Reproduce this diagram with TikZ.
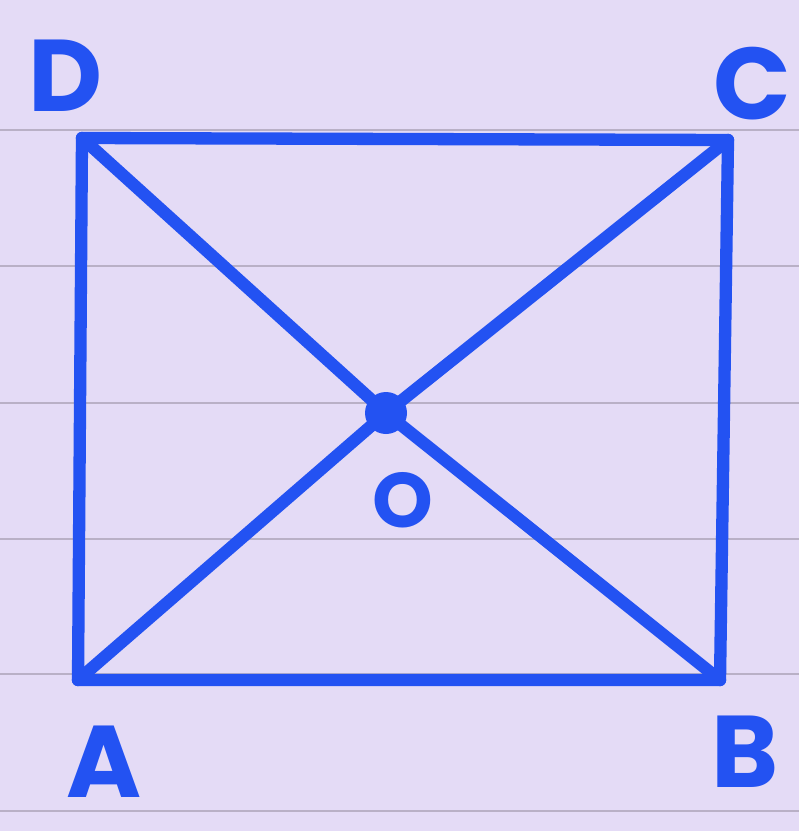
\documentclass[tikz,border=0pt]{standalone}
\usepackage{fontspec}
\setmainfont{Poppins}
\usepackage{xcolor}
\usetikzlibrary{positioning}
\definecolor{paper}{HTML}{E4DBF6}
\definecolor{rule}{HTML}{B9B0C6}
\definecolor{penblue}{HTML}{2352F2}
\tikzset{
  edge/.style={draw=penblue, line width=7pt, line cap=round, line join=round},
  ruleline/.style={draw=rule, line width=1.2pt},
  vlabel/.style={text=penblue, font=\fontsize{58}{60}\selectfont\bfseries, inner sep=0pt},
  olabel/.style={text=penblue, font=\fontsize{44}{46}\selectfont\bfseries, inner sep=0pt},
  pt/.style={circle, fill=penblue, inner sep=0pt, minimum size=42\pxu},
}
\newlength{\pxu}
\setlength{\pxu}{0.02cm}
\begin{document}
\begin{tikzpicture}[x=0.02cm, y=-0.02cm]
  % paper and ruling
  \fill[paper] (0,0) rectangle (799,831);
  \useasboundingbox (0,0) rectangle (799,831);
  \foreach \yy in {130,266,403,539,674,811}
    \draw[ruleline] (0,\yy) -- (799,\yy);

  % corners of the rectangle
  \coordinate (A) at (78,680);
  \coordinate (B) at (720,680);
  \coordinate (C) at (728,140);
  \coordinate (D) at (82,138);
  \node[pt] (O) at (386,413) {};

  % sides and diagonals
  \draw[edge] (A) -- (B) -- (C) -- (D) -- cycle;
  \draw[edge] (A) -- (O.center) -- (C);
  \draw[edge] (D) -- (O.center) -- (B);

  % labels
  \node[vlabel] (labD) at (66,76) {D};
  \node[vlabel] (labC) at (752,84) {C};
  \node[vlabel] (labA) at (104,762) {A};
  \node[vlabel] (labB) at (745,752) {B};
  \node[olabel] (labO) at (403,500) {O};
\end{tikzpicture}
\end{document}
